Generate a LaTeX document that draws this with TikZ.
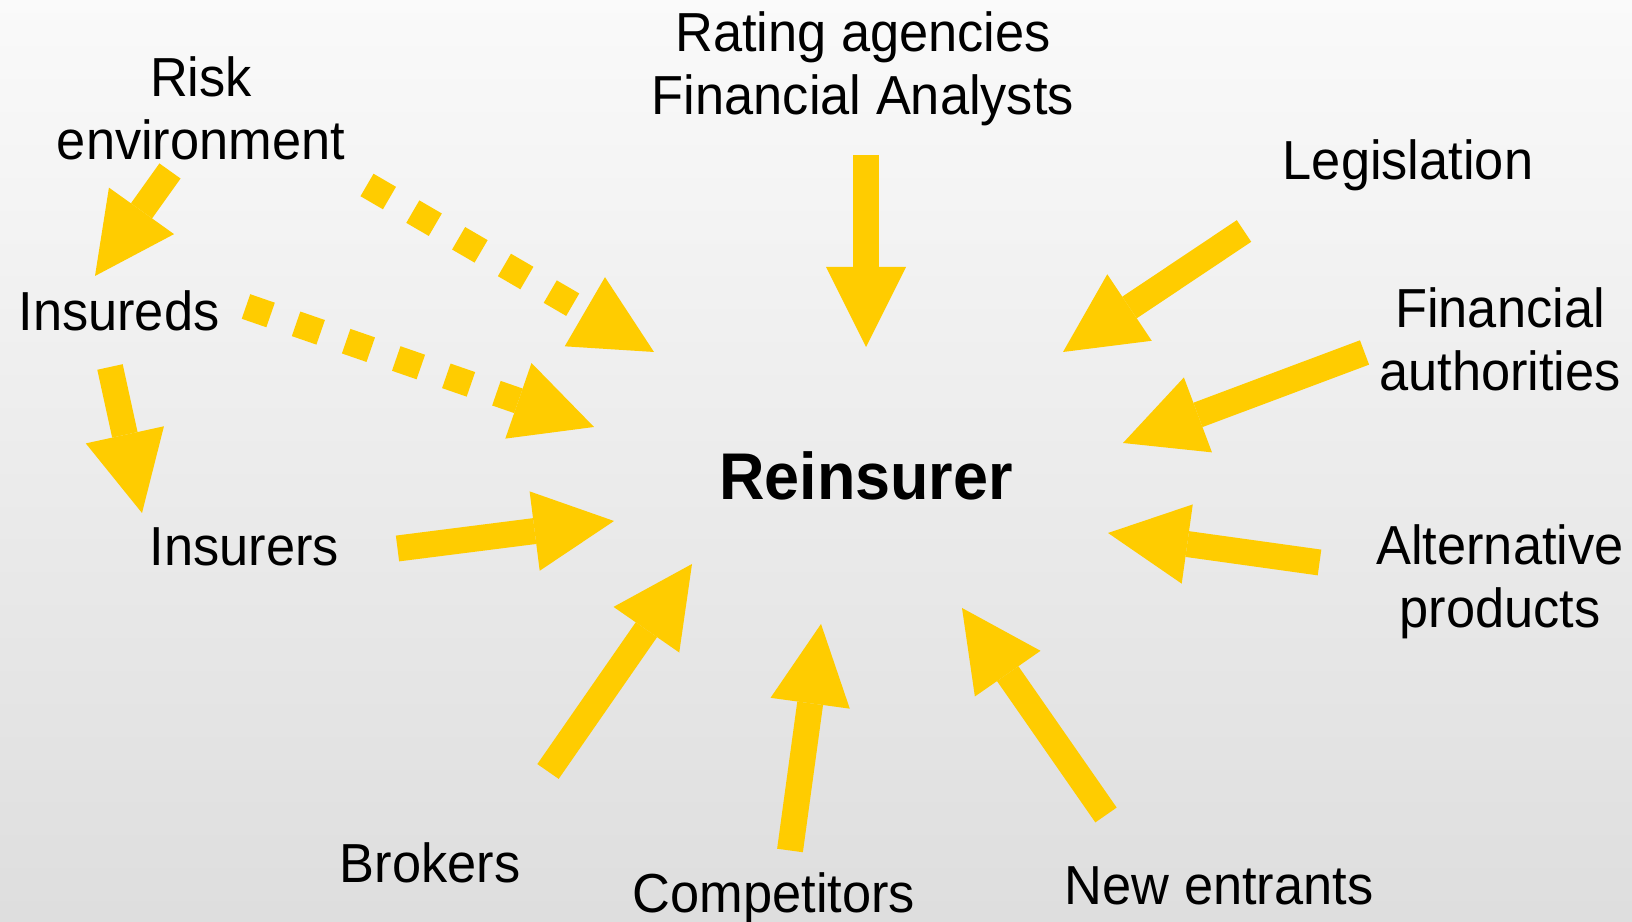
\documentclass[tikz,border=0pt]{standalone}
\usepackage{fontspec}
\setmainfont{Liberation Sans}
\usetikzlibrary{arrows.meta}
\definecolor{gold}{HTML}{FFCC00}

\begin{document}
\begin{tikzpicture}[
  lbl/.style={font=\fontsize{14.9pt}{17.1pt}\selectfont,align=center,inner sep=0pt,anchor=base,yscale=1.05},
  push/.style={draw=gold,line width=0.26cm,-{Triangle[length=0.8cm,width=0.8cm,line width=0pt,fill=gold]}},
  hint/.style={push,dash pattern=on 0.26cm off 0.27cm}]
\shade[top color=black!2,bottom color=black!13] (0,0) rectangle (16.32,9.22);
\useasboundingbox (0,0) rectangle (16.32,9.22);

\node[lbl] (risk) at (2.01,7.62) {Risk\\environment};
\node[lbl] (insureds) at (1.19,5.91) {Insureds};
\node[lbl] (insurers) at (2.445,3.56) {Insurers};
\node[lbl] (rating) at (8.63,8.07) {Rating agencies\\Financial Analysts};
\node[lbl] (legis) at (14.08,7.42) {Legislation};
\node[lbl] (finauth) at (15.00,5.31) {Financial\\authorities};
\node[lbl] (altprod) at (15.00,2.94) {Alternative\\products};
\node[lbl] (newent) at (12.19,0.17) {New entrants};
\node[lbl] (compet) at (7.74,0.09) {Competitors};
\node[lbl] (brokers) at (4.30,0.39) {Brokers};
\node[lbl,font=\fontsize{17.9pt}{20pt}\selectfont\bfseries] (reins) at (8.66,4.22) {Reinsurer};

% arrow ends
\coordinate (risk-out) at (1.70,7.51);
\coordinate (insureds-in) at (0.95,6.46);
\coordinate (insureds-out) at (1.10,5.55);
\coordinate (insurers-in) at (1.42,4.09);
\coordinate (risk-dot) at (3.67,7.37);
\coordinate (insureds-dot) at (2.46,6.155);
\coordinate (insurers-out) at (3.975,3.735);
\coordinate (rating-out) at (8.66,7.67);
\coordinate (legis-out) at (12.44,6.91);
\coordinate (finauth-out) at (13.645,5.695);
\coordinate (altprod-out) at (13.195,3.595);
\coordinate (newent-out) at (11.06,1.07);
\coordinate (compet-out) at (7.90,0.715);
\coordinate (brokers-out) at (5.48,1.505);

\coordinate (r1) at (6.54,5.70);
\coordinate (r2) at (5.94,4.95);
\coordinate (r3) at (6.14,4.01);
\coordinate (r4) at (8.66,5.75);
\coordinate (r5) at (10.63,5.70);
\coordinate (r6) at (11.23,4.79);
\coordinate (r7) at (11.08,3.89);
\coordinate (r8) at (9.62,3.14);
\coordinate (r9) at (8.21,2.98);
\coordinate (r10) at (6.92,3.58);

\draw[push] (risk-out) to (insureds-in);
\draw[push] (insureds-out) to (insurers-in);
\draw[hint] (risk-dot) to (r1);
\draw[hint] (insureds-dot) to (r2);
\draw[push] (insurers-out) to (r3);
\draw[push] (rating-out) to (r4);
\draw[push] (legis-out) to (r5);
\draw[push] (finauth-out) to (r6);
\draw[push] (altprod-out) to (r7);
\draw[push] (newent-out) to (r8);
\draw[push] (compet-out) to (r9);
\draw[push] (brokers-out) to (r10);
\end{tikzpicture}
\end{document}
